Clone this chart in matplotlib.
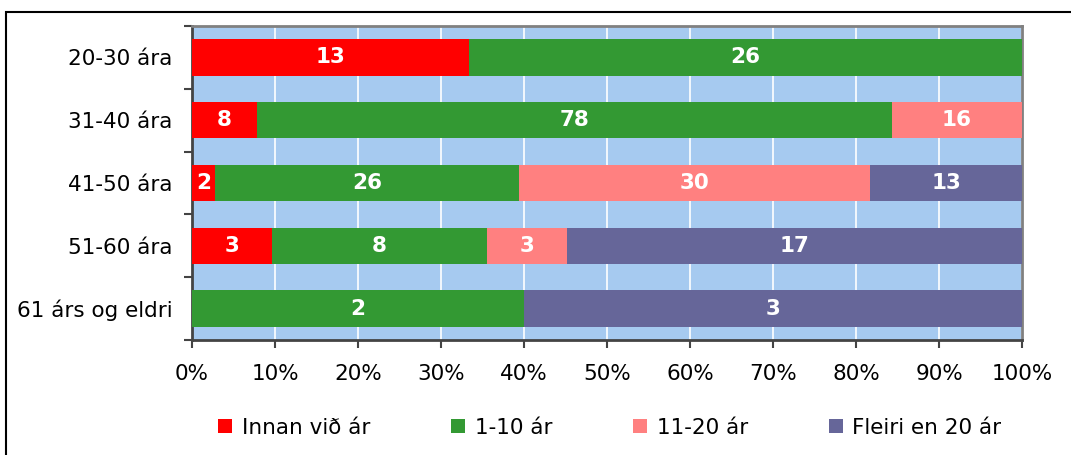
import matplotlib
matplotlib.use('Agg')
import matplotlib.pyplot as plt
from matplotlib.patches import Rectangle, Patch
from matplotlib.ticker import FixedLocator
import numpy as np

#%%

# data (counts per group)
categories = ['20-30 ára', '31-40 ára', '41-50 ára', '51-60 ára', '61 árs og eldri']
series_names = ['Innan við ár', '1-10 ár', '11-20 ár', 'Fleiri en 20 ár']
innan = [13, 8, 2, 3, 0]
ar_1_10 = [26, 78, 26, 8, 2]
ar_11_20 = [0, 16, 30, 3, 0]
fleiri = [0, 0, 13, 17, 3]
xtick_labels = ['0%', '10%', '20%', '30%', '40%', '50%', '60%', '70%', '80%', '90%', '100%']

colors = ['#FF0000', '#339933', '#FF8080', '#666699']

#%%

counts = np.array([innan, ar_1_10, ar_11_20, fleiri], dtype=float)
totals = counts.sum(axis=0)
shares = counts / totals

fig = plt.figure(figsize=(10.71, 4.55), dpi=100)
ax = fig.add_axes([0.1793, 0.2527, 0.7750, 0.6901])
ax.set_facecolor('#A6CAF0')

y = np.arange(len(categories))
left = np.zeros(len(categories))
for i in range(len(series_names)):
    ax.barh(y, shares[i], left=left, height=0.58, color=colors[i], zorder=3)
    for j in range(len(categories)):
        if counts[i, j] > 0:
            ax.text(left[j] + shares[i, j] / 2, y[j], '%d' % counts[i, j],
                    ha='center', va='center', color='white', fontsize=15.5,
                    fontweight='bold', zorder=4)
    left = left + shares[i]

ax.set_xlim(0, 1)
ax.set_ylim(len(categories) - 0.5, -0.5)

ax.set_xticks(np.linspace(0, 1, 11))
ax.set_xticklabels(xtick_labels, fontsize=15.5)
ax.set_yticks(y)
ax.set_yticklabels(categories, fontsize=15.5)
ax.yaxis.set_minor_locator(FixedLocator(np.arange(-0.5, len(categories), 1)))
ax.tick_params(axis='y', which='major', length=0, pad=14)
ax.tick_params(axis='y', which='minor', length=6, width=1.5, color='#444444', direction='out')
ax.tick_params(axis='x', length=6, width=1.5, color='#444444', direction='out', pad=11)

ax.grid(axis='x', color='white', linewidth=1.2, zorder=1)
ax.set_axisbelow(True)

for side in ['top', 'right']:
    ax.spines[side].set_color('#808080')
    ax.spines[side].set_linewidth(2)
for side in ['left', 'bottom']:
    ax.spines[side].set_color('#444444')
    ax.spines[side].set_linewidth(2)

handles = [Patch(facecolor=c, edgecolor='none') for c in colors]
fig.legend(handles, series_names, loc='center', bbox_to_anchor=(0.5696, 0.06),
           ncol=4, frameon=False, fontsize=15.5, handlelength=0.65, handleheight=0.65,
           handletextpad=0.45, columnspacing=3.75)

# outer border of the chart
fig.patches.append(Rectangle((6 / 1071, -0.1), 1.2, 1 - 12 / 455 + 0.1,
                             transform=fig.transFigure, fill=False,
                             edgecolor='black', linewidth=1.5))

fig.savefig('out.png', dpi=100)
